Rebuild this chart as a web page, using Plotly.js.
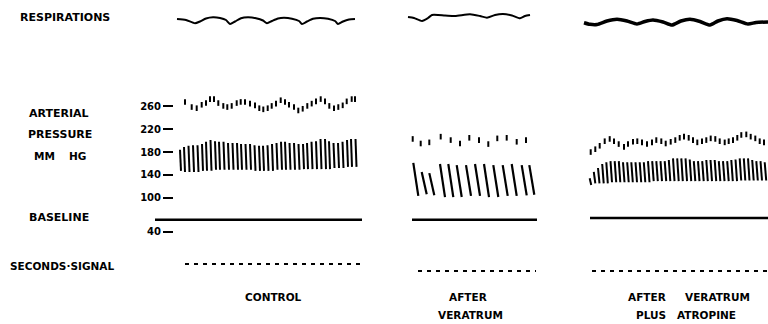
<!DOCTYPE html>
<html><head><meta charset="utf-8">
<script src="https://cdn.plot.ly/plotly-3.0.1.min.js"></script>
<style>html,body{margin:0;padding:0;background:#fff}#chart{width:768px;height:324px}</style>
</head><body><div id="chart"></div>
<script>
// ---------- DATA (read from the recording) ----------
// time in seconds within each record segment, pressure in mm Hg
const pressureTicks = [260, 220, 180, 140, 100, 40];
const pressureTickText = ["260", "220", "180", "140", "100", "40"];

// CONTROL
const controlBeatTimes = [1.0,1.4,1.85,2.3,2.75,3.2,3.6,4.05,4.5,4.9,5.35,5.8,6.25,6.7,7.1,7.55,8.0,8.45,8.9,9.3,9.75,10.2,10.65,11.1,11.5,11.95,12.4,12.85,13.3,13.7,14.15,14.6,15.05,15.5,15.9,16.35,16.8,17.25,17.7,18.1,18.55];
const controlBeatTop = [184,189,191,192,192,194,198,201,199,198,198,196,196,196,194,194,194,192,191,191,192,194,196,198,198,196,196,194,194,196,198,199,203,203,199,196,196,198,201,203,203];
const controlBeatBottom = [147,145,145,145,145,147,147,147,149,149,149,149,149,149,149,149,149,147,147,147,147,147,149,149,149,149,149,149,150,150,150,150,150,150,150,152,152,152,154,154,154];
const controlPeakTimes = [1.5,2.17,2.67,3.17,3.6,4.0,4.4,4.83,5.33,5.73,6.17,6.67,7.07,7.5,8.0,8.5,8.93,9.33,9.77,10.17,10.6,11.07,11.5,11.9,12.4,12.83,13.27,13.73,14.17,14.6,15.07,15.5,15.93,16.4,16.83,17.27,17.67,18.17,18.5];
const controlPeakValues = [268,259,257,263,266,273,273,266,261,259,261,266,268,268,265,262,257,255,257,261,265,271,268,263,259,253,256,261,265,269,273,269,261,257,259,262,269,273,273];
const controlRunoff = 0.1;
const controlRespTimes = [0.7,1.6,2.5,3.0,3.6,4.3,5.0,5.6,6.0,6.5,7.1,7.8,8.6,9.3,9.7,10.2,10.8,11.4,12.2,12.9,13.2,13.7,14.3,15.0,15.8,16.5,16.8,17.3,17.9,18.5];
const controlResp = [1,0,-3.3,-1.5,1.5,2.7,2,0,-4,-1.5,1.8,2.7,1.8,-0.5,-3.3,-1,1.5,2.2,1.3,-1,-4,-1.5,1.2,2,1.2,-1,-4,-1.5,0.5,1];

// AFTER VERATRUM
const veratrumBeatTimes = [1.33,2.17,2.93,4.0,4.83,5.67,6.6,7.5,8.4,9.33,10.27,11.17,12.17,12.93];
const veratrumBeatTop = [161,145,143,159,159,157,157,159,159,157,157,159,157,157];
const veratrumBeatBottom = [103,106,104,101,101,101,103,103,101,101,103,103,104,105];
const veratrumPeakTimes = [1.27,2.07,2.93,4.07,5.07,6.0,6.93,7.9,8.83,9.73,10.67,11.67,12.6];
const veratrumPeakValues = [203,195,197,207,201,195,205,201,194,204,205,198,201];
const veratrumRunoff = 0.5;
const veratrumRespTimes = [0.8,1.4,2.2,2.8,3.2,4.5,5.5,7.0,8.0,8.7,9.5,10.3,11.2,12.0,12.5,13.0];
const veratrumResp = [3,2,-1,2,5,4.5,4,5.7,4,2.3,5,6,4.5,1.7,4,5];

// AFTER VERATRUM PLUS ATROPINE
const atropineBeatTimes = [1.17,1.58,2.0,2.42,2.83,3.25,3.67,4.08,4.5,4.92,5.33,5.75,6.17,6.58,7.0,7.42,7.83,8.25,8.67,9.08,9.5,9.92,10.33,10.75,11.17,11.58,12.0,12.42,12.83,13.25,13.67,14.08,14.5,14.92,15.33,15.75,16.17,16.58,17.0,17.42,17.83,18.25,18.67];
const atropineBeatTop = [134,145,152,159,162,164,164,164,162,162,162,162,162,162,164,164,164,164,164,166,169,169,169,169,167,164,164,164,166,166,166,164,164,164,166,167,169,169,169,166,164,164,162];
const atropineBeatBottom = [122,125,125,125,125,127,127,127,127,127,127,127,127,127,127,129,129,129,129,129,129,129,129,129,129,129,129,129,129,129,129,129,129,129,129,129,130,130,130,130,130,130,130];
const atropinePeakTimes = [1.27,1.73,2.17,2.67,3.17,3.6,4.07,4.6,5.0,5.5,5.93,6.4,6.9,7.4,7.83,8.33,8.77,9.27,9.73,10.17,10.6,11.07,11.5,11.93,12.4,12.83,13.27,13.73,14.17,14.67,15.07,15.5,15.93,16.33,16.83,17.27,17.73,18.17,18.6];
const atropinePeakValues = [180,185,191,199,203,199,194,189,194,198,199,197,194,197,201,199,195,198,201,205,207,205,201,197,199,201,204,203,199,197,199,201,205,210,211,207,204,199,197];
const atropineRunoff = 0.15;
const atropineRespTimes = [0.6,1.2,1.9,2.9,3.9,4.9,5.9,6.7,7.5,8.5,9.4,10.3,11.2,12.2,13.2,14.0,14.9,15.9,17.0,17.8,19.0];
const atropineResp = [-2.7,-4.3,-4.5,-1,0.7,-1,-4,-1.5,0,-2,-5,-1,0.7,-1.5,-5,-1,1.3,-0.5,-4,-2.5,-2];

// baseline (pressure units) and seconds-signal pen level, spans in seconds
const baselineLevel = [61, 61, 64];
const baselineSpan = [[-1.5, 19.2], [1.2, 13.7], [1.2, 19.0]];
const signalLevel = [16, 9, 9];
const signalSpan = [[1.5, 19.2], [1.8, 13.6], [1.4, 19.0]];

// ---------- BUILD ----------
const K = '#000';
function strokes(times, tops, bottoms, runoff) {
  const x = [], y = [];
  times.forEach((t, i) => { x.push(t, t + runoff, null); y.push(tops[i], bottoms[i], null); });
  return {x, y};
}
const xa = ['x', 'x2', 'x3'];
const beats = [
  strokes(controlBeatTimes, controlBeatTop, controlBeatBottom, controlRunoff),
  strokes(veratrumBeatTimes, veratrumBeatTop, veratrumBeatBottom, veratrumRunoff),
  strokes(atropineBeatTimes, atropineBeatTop, atropineBeatBottom, atropineRunoff)
];
const peaks = [[controlPeakTimes, controlPeakValues], [veratrumPeakTimes, veratrumPeakValues], [atropinePeakTimes, atropinePeakValues]];
const resp = [[controlRespTimes, controlResp, 2], [veratrumRespTimes, veratrumResp, 2], [atropineRespTimes, atropineResp, 3.5]];
const strokeW = [2, 2.2, 2];

const traces = [];
for (let p = 0; p < 3; p++) {
  traces.push({type:'scatter', mode:'lines', xaxis:xa[p], yaxis:'y2', x:resp[p][0], y:resp[p][1],
    line:{color:K, width:resp[p][2], shape:'spline', smoothing:0.6}, hoverinfo:'skip'});
  traces.push({type:'scatter', mode:'lines', xaxis:xa[p], yaxis:'y', x:beats[p].x, y:beats[p].y,
    line:{color:K, width:strokeW[p]}, connectgaps:false, hoverinfo:'skip'});
  traces.push({type:'scatter', mode:'markers', xaxis:xa[p], yaxis:'y', x:peaks[p][0], y:peaks[p][1],
    marker:{symbol:'line-ns-open', size:4, color:K, line:{color:K, width:2}}, hoverinfo:'skip'});
  traces.push({type:'scatter', mode:'lines', xaxis:xa[p], yaxis:'y', x:baselineSpan[p], y:[baselineLevel[p], baselineLevel[p]],
    line:{color:K, width:2.5}, hoverinfo:'skip'});
  traces.push({type:'scatter', mode:'lines', xaxis:xa[p], yaxis:'y3', x:signalSpan[p], y:[signalLevel[p], signalLevel[p]],
    line:{color:K, width:2, dash:'4px,5px'}, hoverinfo:'skip'});
}

const W = 768, H = 324;
const FAM = 'DejaVu Sans';
function lab(text, px, py, anchor, size) {
  return {text, x:px / W, y:1 - py / H, xref:'paper', yref:'paper', showarrow:false,
    xanchor:anchor, yanchor:'middle', font:{family:FAM, size:size, color:K, weight:'bold'}};
}
const annotations = [
  lab('RESPIRATIONS', 18, 17, 'left', 11),
  lab('ARTERIAL', 27, 113, 'left', 11),
  lab('PRESSURE', 26, 134, 'left', 11),
  lab('MM', 32, 155.5, 'left', 10.5),
  lab('HG', 67, 155.5, 'left', 10.5),
  lab('BASELINE', 27, 217, 'left', 11),
  lab('SECONDS·SIGNAL', 8, 266, 'left', 10.5),
  lab('CONTROL', 273.5, 297, 'center', 10.5),
  lab('AFTER', 468, 297, 'center', 10.5),
  lab('VERATRUM', 470, 315, 'center', 10.5),
  lab('AFTER', 626, 297, 'left', 10.5),
  lab('VERATRUM', 752, 297, 'right', 10.5),
  lab('PLUS', 634, 315, 'left', 10.5),
  lab('ATROPINE', 738, 315, 'right', 10.5)
];

const layout = {
  width:W, height:H, margin:{l:0, r:0, t:0, b:0},
  paper_bgcolor:'#fff', plot_bgcolor:'rgba(0,0,0,0)', showlegend:false,
  font:{family:FAM, size:10, color:K},
  xaxis:{domain:[150 / W, 370 / W], range:[-2, 20], visible:false, anchor:'y'},
  xaxis2:{domain:[400 / W, 550 / W], range:[0, 15], visible:false, anchor:'y'},
  xaxis3:{domain:[578 / W, 1], range:[0, 19], visible:false, anchor:'y'},
  yaxis:{domain:[84 / H, 234 / H], range:[25.56, 288.94], anchor:'free', position:173 / W,
    tickmode:'array', tickvals:pressureTicks, ticktext:pressureTickText,
    ticks:'outside', ticklen:10, tickwidth:2, tickcolor:K, showline:false, showgrid:false, zeroline:false,
    tickfont:{family:FAM, size:10, color:K, weight:'bold'}},
  yaxis2:{domain:[284 / H, 1], range:[-20, 20], visible:false, anchor:'x'},
  yaxis3:{domain:[44 / H, 74 / H], range:[0, 30], visible:false, anchor:'x'},
  annotations
};
Plotly.newPlot('chart', traces, layout, {staticPlot:true, displayModeBar:false});
</script></body></html>
